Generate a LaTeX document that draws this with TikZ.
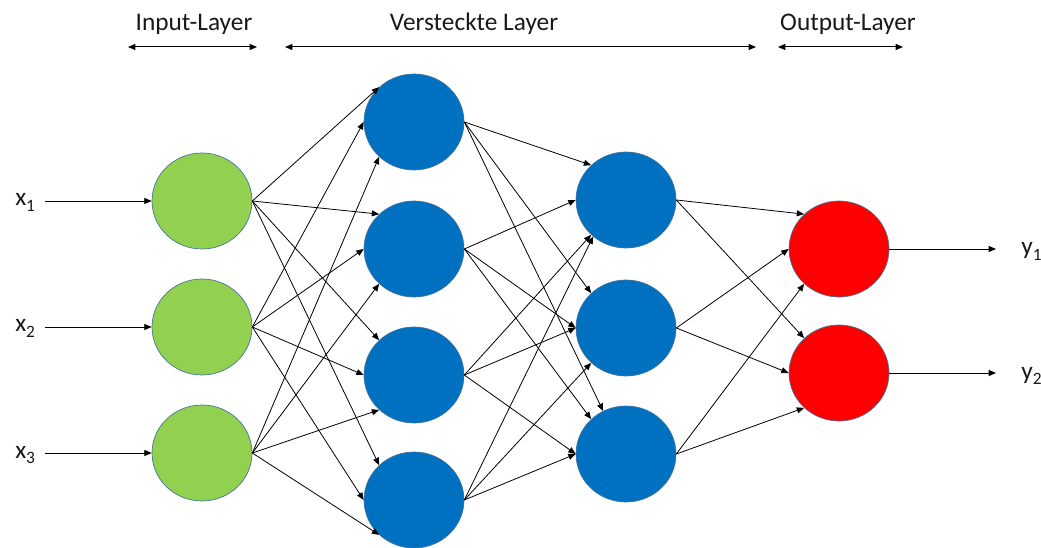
\documentclass[tikz,border=0pt]{standalone}
\usepackage{fontspec}
\setmainfont{Carlito}
\usetikzlibrary{arrows.meta,shapes.geometric}
\definecolor{ingreen}{HTML}{92D050}
\definecolor{hidblue}{HTML}{0070C0}
\definecolor{outred}{HTML}{FF0000}
\definecolor{rim}{HTML}{41719C}
\newcommand\lowsub[1]{\raisebox{-4pt}{\fontsize{13}{15}\selectfont #1}}
\begin{document}
\begin{tikzpicture}[x=0.75pt,y=-0.75pt,
  neuron/.style={ellipse, inner sep=0pt, minimum width=75pt, minimum height=72pt, draw=rim, line width=0.5pt},
  inneuron/.style={neuron, fill=ingreen},
  hidneuron/.style={neuron, fill=hidblue},
  outneuron/.style={neuron, fill=outred},
  conn/.style={-{Triangle[length=5.5pt,width=4.5pt]}, line width=0.6pt, black},
  span/.style={{Triangle[length=5.5pt,width=4.5pt]}-{Triangle[length=5.5pt,width=4.5pt]}, line width=0.75pt, black},
  lbl/.style={font=\fontsize{19}{23}\selectfont, inner sep=0pt, anchor=base, text=black!90}
]
\useasboundingbox (0,0) rectangle (1041,548);
% neurons
\node[inneuron] (i1) at (202,201) {};
\node[inneuron] (i2) at (202,327) {};
\node[inneuron] (i3) at (202,453) {};
\node[hidneuron] (h1) at (414,122) {};
\node[hidneuron] (h2) at (414,249) {};
\node[hidneuron] (h3) at (414,375) {};
\node[hidneuron] (h4) at (414,500) {};
\node[hidneuron] (g1) at (626,200) {};
\node[hidneuron] (g2) at (626,328) {};
\node[hidneuron] (g3) at (626,454) {};
\node[outneuron] (o1) at (839,249) {};
\node[outneuron] (o2) at (839,373) {};
% headers
\node[lbl] (tin) at (194,31) {Input-Layer};
\node[lbl] (thid) at (474,31) {Versteckte Layer};
\node[lbl] (tout) at (848,31) {Output-Layer};
\coordinate (ia) at (128,47); \coordinate (ib) at (257,47);
\coordinate (ha) at (285,47); \coordinate (hb) at (756,47);
\coordinate (oa) at (778,47); \coordinate (ob) at (903,47);
\draw[span] (ia) -- (ib);
\draw[span] (ha) -- (hb);
\draw[span] (oa) -- (ob);
% inputs
\node[lbl, anchor=base west] (x1) at (15,206) {x\lowsub{1}};
\node[lbl, anchor=base west] (x2) at (15,332) {x\lowsub{2}};
\node[lbl, anchor=base west] (x3) at (15,458) {x\lowsub{3}};
\coordinate (xs1) at (45,201);
\coordinate (xs2) at (45,327);
\coordinate (xs3) at (45,453);
\draw[conn] (xs1) -- (i1.west);
\draw[conn] (xs2) -- (i2.west);
\draw[conn] (xs3) -- (i3.west);
% outputs
\node[lbl, anchor=base west] (y1) at (1021,255) {y\lowsub{1}};
\node[lbl, anchor=base west] (y2) at (1021,379) {y\lowsub{2}};
\coordinate (ye1) at (996,249);
\coordinate (ye2) at (996,373);
\draw[conn] (o1.east) -- (ye1);
\draw[conn] (o2.east) -- (ye2);
% input -> hidden 1
\foreach \s/\a in {1/135,2/180,3/225}
  \foreach \t in {1,2,3,4}
    \draw[conn] (i\s.east) -- (h\t.\a);
% hidden 1 -> hidden 2
\foreach \s/\t/\a in {1/1/135,2/1/180,3/1/225,4/1/228,
                      1/2/135,2/2/180,3/2/180,4/2/225,
                      1/3/118,2/3/135,3/3/180,4/3/180}
  \draw[conn] (h\s.east) -- (g\t.\a);
% hidden 2 -> output
\foreach \s/\a in {1/135,2/180,3/225}
  \foreach \t in {1,2}
    \draw[conn] (g\s.east) -- (o\t.\a);
\end{tikzpicture}
\end{document}
